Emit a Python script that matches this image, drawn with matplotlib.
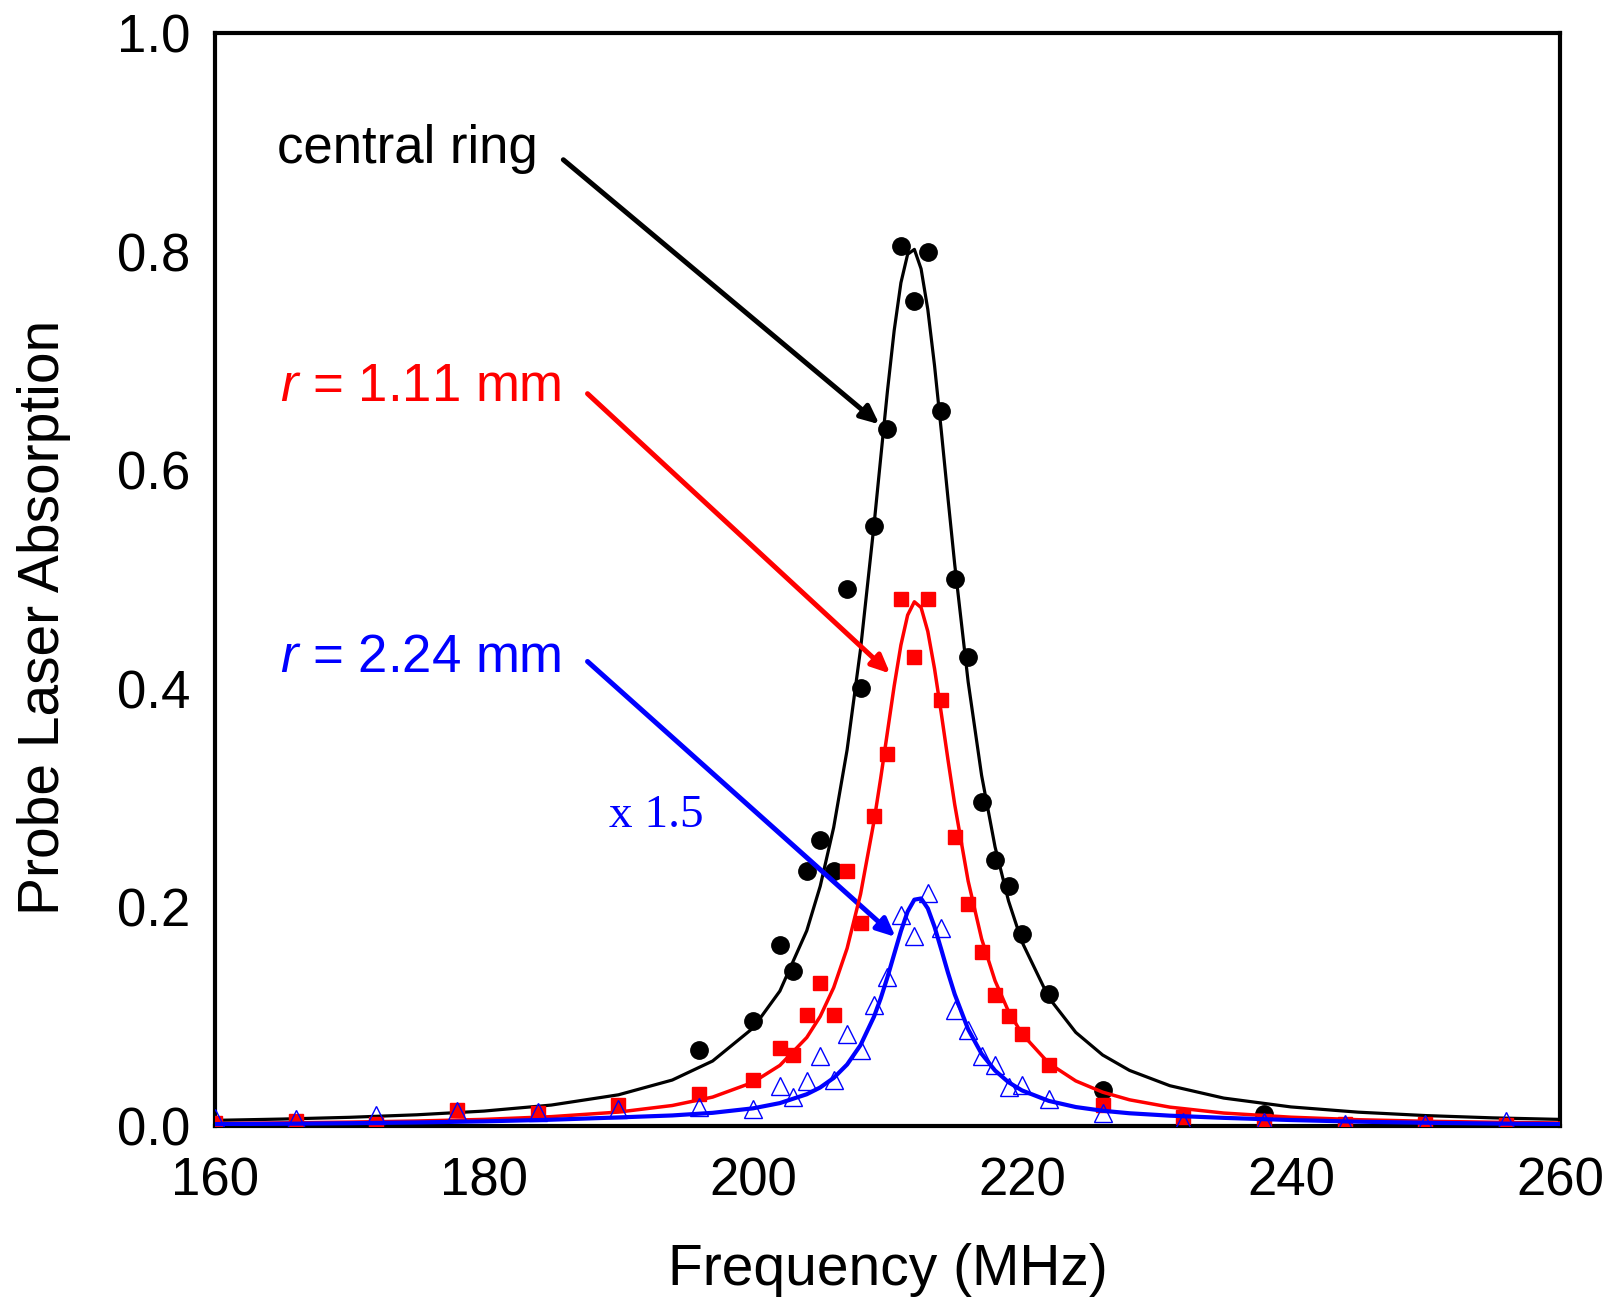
import matplotlib
matplotlib.use("Agg")
import matplotlib.pyplot as plt

plt.rcParams['font.family'] = ['Liberation Sans', 'DejaVu Sans']
plt.rcParams['mathtext.fontset'] = 'custom'
plt.rcParams['mathtext.it'] = 'Liberation Sans:italic'
plt.rcParams['mathtext.rm'] = 'Liberation Sans'

# ---- measured points ----
x_black = [196, 200, 202, 203, 204, 205, 206, 207, 208, 209, 210, 211, 212, 213,
           214, 215, 216, 217, 218, 219, 220, 222, 226, 238]
y_black = [0.070, 0.096, 0.166, 0.142, 0.233, 0.262, 0.233, 0.491, 0.401, 0.549,
           0.638, 0.805, 0.755, 0.800, 0.654, 0.500, 0.429, 0.296, 0.243, 0.220,
           0.176, 0.121, 0.033, 0.011]

x_red = [160, 166, 172, 178, 184, 190, 196, 200, 202, 203, 204, 205, 206, 207, 208,
         209, 210, 211, 212, 213, 214, 215, 216, 217, 218, 219, 220, 222, 226, 232,
         238, 244, 250, 256]
y_red = [0.003, 0.005, 0.002, 0.015, 0.012, 0.019, 0.029, 0.042, 0.071, 0.065,
         0.102, 0.131, 0.102, 0.233, 0.186, 0.284, 0.340, 0.482, 0.429, 0.482,
         0.390, 0.264, 0.203, 0.159, 0.120, 0.101, 0.084, 0.056, 0.019, 0.008,
         0.005, 0.002, 0.002, 0.001]

x_blue = [160, 166, 172, 178, 184, 190, 196, 200, 202, 203, 204, 205, 206, 207, 208,
          209, 210, 211, 212, 213, 214, 215, 216, 217, 218, 219, 220, 222, 226, 232,
          238, 244, 250, 256]
y_blue = [0.007, 0.006, 0.010, 0.014, 0.013, 0.016, 0.017, 0.016, 0.037, 0.027,
          0.041, 0.064, 0.042, 0.084, 0.070, 0.111, 0.136, 0.193, 0.174, 0.213,
          0.181, 0.106, 0.088, 0.064, 0.056, 0.036, 0.038, 0.025, 0.012, 0.004,
          0.004, 0.002, 0.002, 0.005]

# ---- fitted curves ----
x_fit = [160, 165, 170, 175, 180, 185, 190, 194, 197, 200, 202, 204, 205, 206, 207,
         208, 209, 209.5, 210, 210.5, 211, 211.5, 212, 212.5, 213, 213.5, 214,
         214.5, 215, 216, 217, 218, 219, 220, 222, 224, 226, 228, 231, 235, 240,
         245, 250, 255, 260]
fit_black = [0.0052, 0.0064, 0.0080, 0.0103, 0.0137, 0.0192, 0.0286, 0.0421, 0.0595,
             0.0896, 0.1235, 0.1787, 0.2194, 0.2731, 0.3442, 0.4364, 0.5498, 0.6115,
             0.6725, 0.7278, 0.7714, 0.7975, 0.8020, 0.7842, 0.7470, 0.6957, 0.6363,
             0.5743, 0.5139, 0.4063, 0.3208, 0.2554, 0.2060, 0.1685, 0.1174, 0.0857,
             0.0650, 0.0509, 0.0369, 0.0256, 0.0175, 0.0127, 0.0096, 0.0075, 0.0061]
fit_red = [0.0023, 0.0029, 0.0036, 0.0046, 0.0061, 0.0086, 0.0128, 0.0188, 0.0265,
           0.0400, 0.0555, 0.0810, 0.1003, 0.1266, 0.1626, 0.2122, 0.2789, 0.3184,
           0.3606, 0.4026, 0.4400, 0.4674, 0.4796, 0.4743, 0.4525, 0.4184, 0.3777,
           0.3351, 0.2942, 0.2241, 0.1713, 0.1329, 0.1049, 0.0844, 0.0574, 0.0413,
           0.0310, 0.0240, 0.0173, 0.0119, 0.0081, 0.0058, 0.0044, 0.0035, 0.0028]
fit_blue = [0.0018, 0.0021, 0.0026, 0.0033, 0.0043, 0.0058, 0.0079, 0.0097, 0.0121,
            0.0162, 0.0210, 0.0291, 0.0353, 0.0440, 0.0563, 0.0741, 0.1001, 0.1169,
            0.1362, 0.1573, 0.1783, 0.1962, 0.2071, 0.2082, 0.1991, 0.1823, 0.1616,
            0.1403, 0.1206, 0.0885, 0.0661, 0.0508, 0.0401, 0.0326, 0.0230, 0.0174,
            0.0140, 0.0117, 0.0095, 0.0075, 0.0055, 0.0040, 0.0030, 0.0023, 0.0018]

x_ticks = [160, 180, 200, 220, 240, 260]
y_ticks = [0.0, 0.2, 0.4, 0.6, 0.8, 1.0]

fig = plt.figure(figsize=(16.14, 12.97), dpi=100)
ax = fig.add_axes([0.1332, 0.1318, 0.8333, 0.8428])

ax.plot(x_black, y_black, 'o', color='black', markersize=12.5, zorder=2)
ax.plot(x_fit, fit_black, '-', color='black', lw=2.3, zorder=3)
ax.plot(x_red, y_red, 's', color='#ff0000', markersize=10.5, zorder=4)
ax.plot(x_fit, fit_red, '-', color='#ff0000', lw=2.5, zorder=5)
ax.plot(x_blue, y_blue, '^', markerfacecolor='none', markeredgecolor='#0000ff',
        markeredgewidth=1.0, markersize=13, zorder=6)
ax.plot(x_fit, fit_blue, '-', color='#0000ff', lw=3.0, zorder=7)

ax.set_xlim(160, 260)
ax.set_ylim(0, 1.0)
ax.set_xticks(x_ticks)
ax.set_yticks(y_ticks)
ax.set_yticklabels(['%.1f' % v for v in y_ticks])
ax.tick_params(length=0, labelsize=38)
ax.tick_params(axis='x', pad=22)
ax.tick_params(axis='y', pad=18)
for s in ax.spines.values():
    s.set_linewidth(3.0)

ax.set_xlabel('Frequency (MHz)', fontsize=41, labelpad=26)
ax.set_ylabel('Probe Laser Absorption', fontsize=41)
ax.yaxis.set_label_coords(-0.107, 0.465)

arrow_style = '-|>,head_length=1.1,head_width=0.5'

# annotations
ax.text(164.6, 0.894, 'central ring', fontsize=38, color='black', ha='left', va='center')
ax.annotate('', xy=(209.4, 0.642), xytext=(185.9, 0.884),
            arrowprops=dict(arrowstyle=arrow_style, color='black', lw=3.6,
                            shrinkA=0, shrinkB=0))

ax.text(164.8, 0.676, r'$\mathit{r}$ = 1.11 mm', fontsize=38, color='#ff0000',
        ha='left', va='center')
ax.annotate('', xy=(210.2, 0.414), xytext=(187.7, 0.670),
            arrowprops=dict(arrowstyle=arrow_style, color='#ff0000', lw=3.6,
                            shrinkA=0, shrinkB=0))

ax.text(164.8, 0.428, r'$\mathit{r}$ = 2.24 mm', fontsize=38, color='#0000ff',
        ha='left', va='center')
ax.annotate('', xy=(210.6, 0.173), xytext=(187.7, 0.425),
            arrowprops=dict(arrowstyle=arrow_style, color='#0000ff', lw=3.6,
                            shrinkA=0, shrinkB=0))

ax.text(189.3, 0.284, 'x 1.5', fontsize=34, color='#0000ff', ha='left', va='center',
        family=['Liberation Serif', 'DejaVu Serif'])

fig.savefig('out.png', dpi=100)
